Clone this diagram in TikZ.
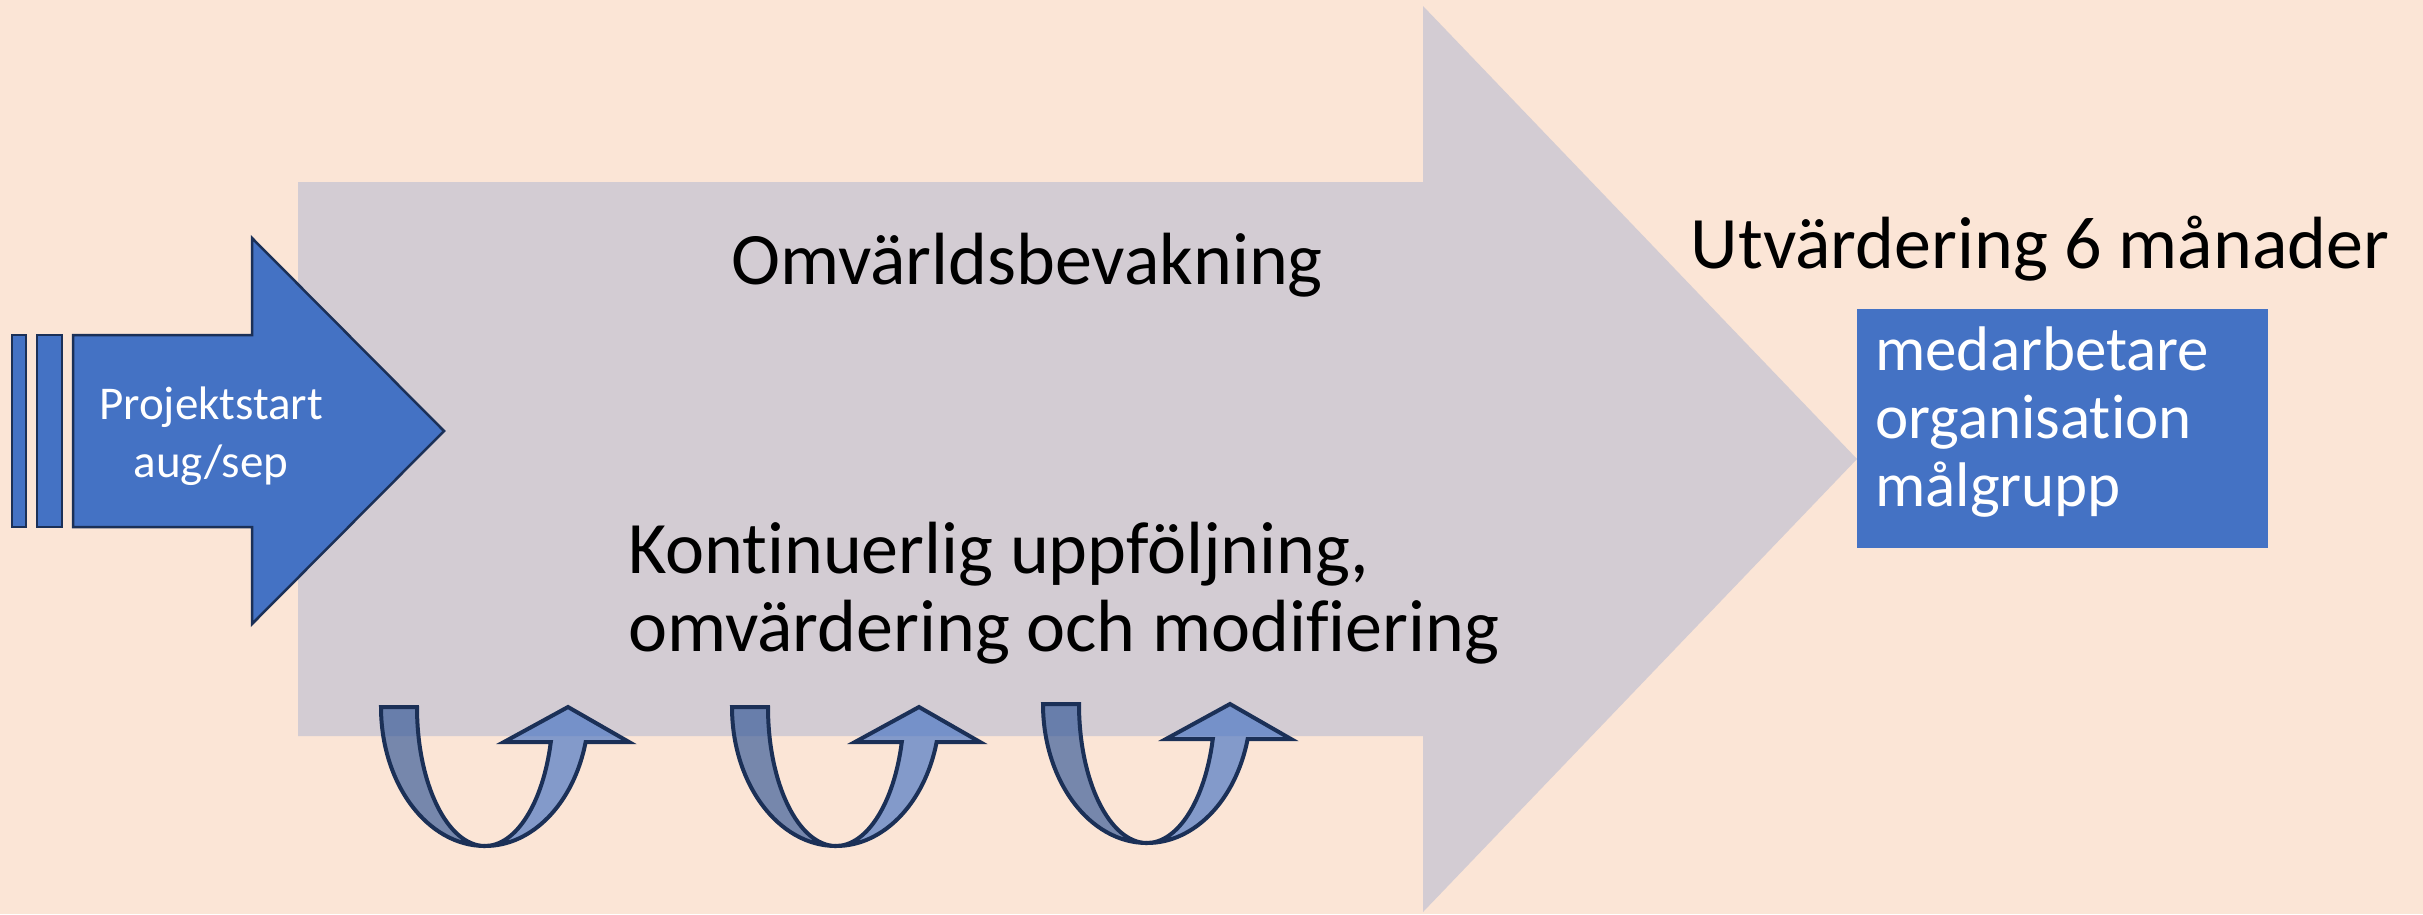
\documentclass[tikz,border=0pt]{standalone}
\usepackage{fontspec}
\setmainfont{Carlito}[Ligatures=NoCommon]
\definecolor{bgpeach}{HTML}{FBE5D6}
\definecolor{bigarrowgray}{HTML}{D3CCD3}
\definecolor{accblue}{HTML}{4472C4}
\definecolor{outlinenavy}{HTML}{1B3057}
\definecolor{darkblue}{HTML}{2F5597}
\newcommand\myuturn[2]{%
  \path[uturnback] ({#1-104},#2) -- ({#1-68},#2)
     arc[start angle=180,end angle=90,x radius=68,y radius=139]
     arc[start angle=90,end angle=180,x radius=104,y radius=139] -- cycle;
  \path[uturnfront] (#1,{#2+139})
     arc[start angle=90,end angle=14.6,x radius=104,y radius=139]
     -- ({#1+144},{#2+35}) -- ({#1+83},#2) -- ({#1+19},{#2+35}) -- ({#1+65.8},{#2+35})
     arc[start angle=14.6,end angle=90,x radius=68,y radius=139] -- cycle;
}
\begin{document}
\begin{tikzpicture}[x=1pt,y=-1pt,
  bluearrow/.style={fill=accblue, draw=outlinenavy, line width=2.5pt},
  uturnback/.style={fill=darkblue, fill opacity=0.65, draw=outlinenavy, draw opacity=1, line width=4pt},
  uturnfront/.style={fill=accblue, fill opacity=0.65, draw=outlinenavy, draw opacity=1, line width=4pt},
  bigtext/.style={font=\fontsize{74}{78}\selectfont, inner sep=0pt, text=black},
  whitetext/.style={text=white, inner sep=0pt}]
\fill[bgpeach] (0,0) rectangle (2423,914);
\useasboundingbox (0,0) rectangle (2423,914);
% big gray arrow
\fill[bigarrowgray] (298,182) -- (1423,182) -- (1423,6) -- (1857,459) -- (1423,912) -- (1423,736) -- (298,736) -- cycle;
% striped blue arrow
\path[bluearrow] (12,335) rectangle (26,527);
\path[bluearrow] (37,335) rectangle (62,527);
\path[bluearrow] (73,335) -- (252,335) -- (252,238) -- (444,431) -- (252,624) -- (252,527) -- (73,527) -- cycle;
\node[whitetext, align=center, anchor=north, font=\fontsize{47}{58}\selectfont] (start) at (211,379) {\rule{0pt}{40pt}Projektstart\\aug/sep};
% texts
\node[bigtext, anchor=base] (omv) at (1027,284) {Omvärldsbevakning};
\node[bigtext, anchor=base] (utv) at (2040,268) {Utvärdering 6 månader};
\node[bigtext, anchor=north west, align=left] (kont) at (628,513) {\rule{0pt}{60pt}Kontinuerlig uppföljning,\\omvärdering och modifiering};
% box
\node[fill=accblue, inner sep=0pt, minimum width=411pt, minimum height=239pt, anchor=north west] (box) at (1857,309) {};
\node[whitetext, align=left, anchor=north west, font=\fontsize{63}{68}\selectfont] (boxtext) at (1875,320) {\rule{0pt}{50pt}medarbetare\\organisation\\målgrupp};
% u-turn arrows
\myuturn{485}{707}
\myuturn{836}{707}
\myuturn{1147}{704}
\end{tikzpicture}
\end{document}
